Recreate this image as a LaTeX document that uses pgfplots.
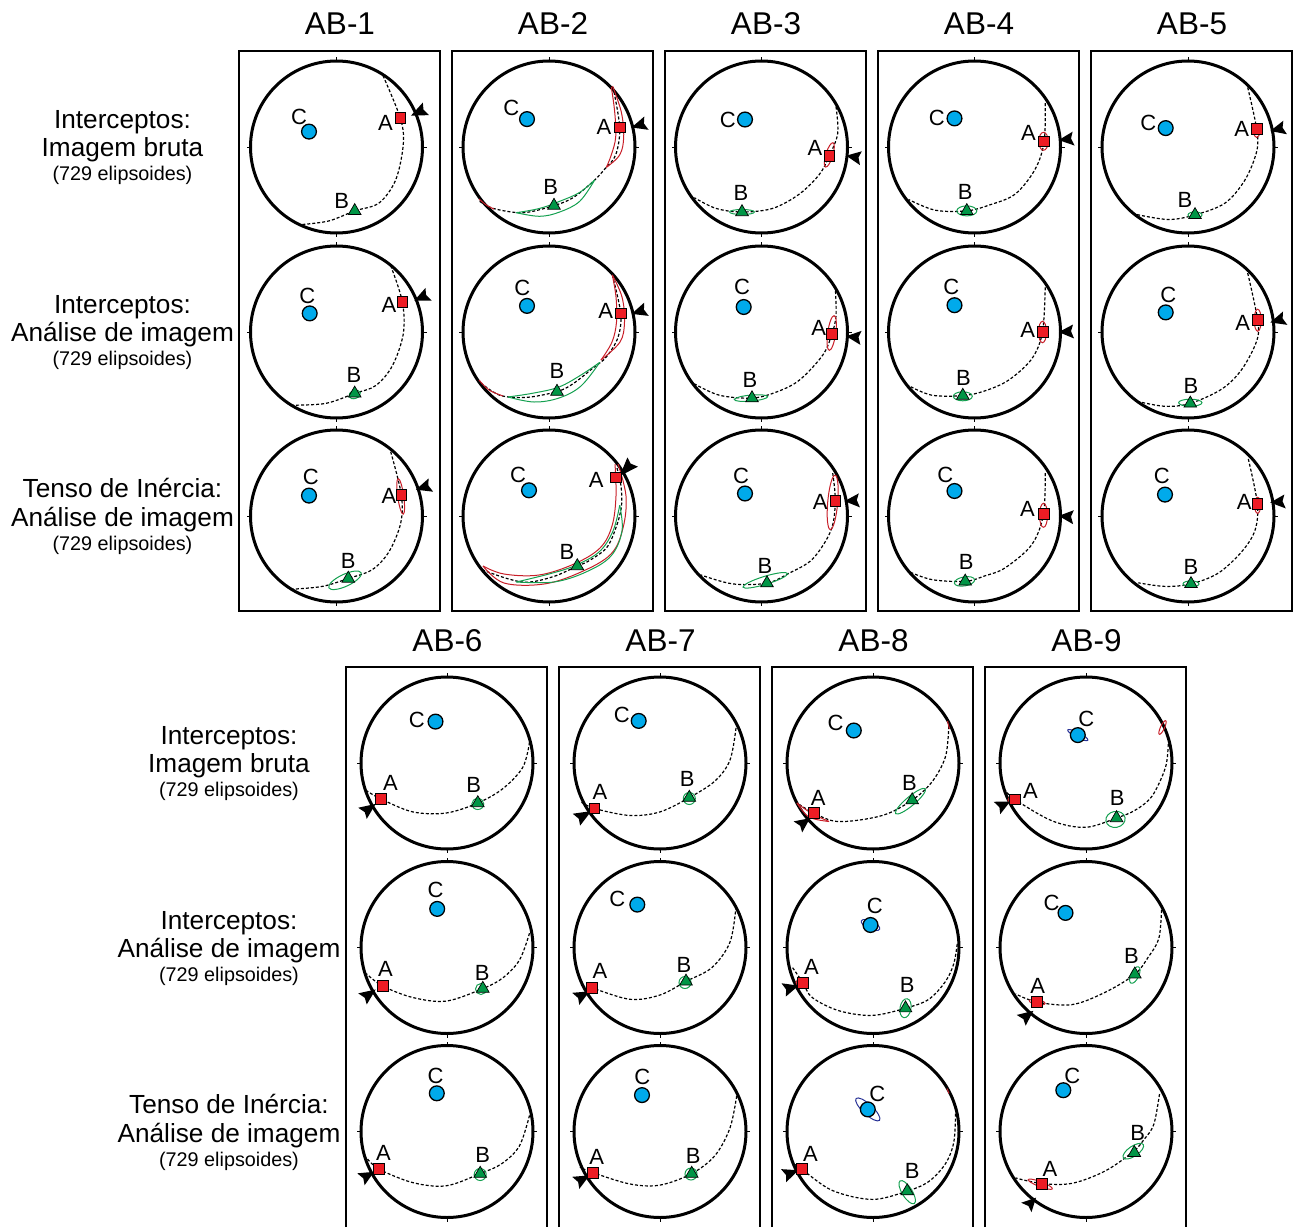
\documentclass[border=0pt]{standalone}
\usepackage{fontspec}
\setmainfont{Liberation Sans}
\usepackage{pgfplots}
\pgfplotsset{compat=1.18}
\usetikzlibrary{calc}
\definecolor{mred}{RGB}{237,28,36}
\definecolor{mgreen}{RGB}{0,150,70}
\definecolor{mblue}{RGB}{0,170,235}
\definecolor{ered}{RGB}{200,30,40}
\definecolor{egreen}{RGB}{20,160,80}
\definecolor{eblue}{RGB}{40,50,150}
\pgfplotsset{
  sh/.style 2 args={x filter/.expression={x+#1}, y filter/.expression={y+#2}},
  mA/.style={only marks, mark=square*, mark size=5.4pt, mark options={solid, fill=mred, draw=black, line width=0.7pt}},
  mB/.style={only marks, mark=triangle*, mark size=7.3pt, mark options={solid, fill=mgreen, draw=black, line width=0.7pt}},
  mC/.style={only marks, mark=*, mark size=7.4pt, mark options={solid, fill=mblue, draw=black, line width=1.3pt}},
}
\tikzset{
  lab/.style={font=\fontsize{22}{22}\selectfont, inner sep=0pt},
  ttl/.style={font=\fontsize{31.5}{31.5}\selectfont, anchor=base, inner sep=0pt},
  rl/.style={font=\fontsize{26.2}{26.2}\selectfont, anchor=base, inner sep=0pt},
  rs/.style={font=\fontsize{19.8}{19.8}\selectfont, anchor=base, inner sep=0pt},
}
\newcommand{\Net}[2]{%
  \draw[line width=3pt] (axis cs:#1,#2) circle[radius=86];
  \draw[line width=0.6pt] (axis cs:#1,{#2-87}) -- (axis cs:#1,{#2-90})
    (axis cs:#1,{#2+87}) -- (axis cs:#1,{#2+90})
    (axis cs:{#1-87},#2) -- (axis cs:{#1-90},#2)
    (axis cs:{#1+87},#2) -- (axis cs:{#1+90},#2);}
\newcommand{\GC}[3]{\addplot[black, line width=1.2pt, dash pattern=on 3pt off 2pt, smooth, tension=0.55, sh={#1}{#2}] coordinates {#3};}
\newcommand{\Bd}[4]{\addplot[#3, line width=1pt, smooth, tension=0.6, sh={#1}{#2}] coordinates {#4};}
\newcommand{\Pt}[5]{\addplot[#5, sh={#1}{#2}] coordinates {(#3,#4)};}
\newcommand{\ABC}[8]{\Pt{#1}{#2}{#3}{#4}{mA}\Pt{#1}{#2}{#5}{#6}{mB}\Pt{#1}{#2}{#7}{#8}{mC}}
\newcommand{\Lb}[5]{\node[lab] at (axis cs:{#1+#3},{#2+#4}) {#5};}
\newcommand{\LABC}[8]{\Lb{#1}{#2}{#3}{#4}{A}\Lb{#1}{#2}{#5}{#6}{B}\Lb{#1}{#2}{#7}{#8}{C}}
\newcommand{\El}[8]{\draw[#8, line width=1pt, rotate around={#7:(axis cs:{#1+#3},{#2+#4})}] (axis cs:{#1+#3},{#2+#4}) ellipse[x radius=#5, y radius=#6];}
% arrowhead: back point (#3,#4), tip (#5,#6)
\newcommand{\Ar}[6]{\fill[black] ($(axis cs:{#1+#5},{#2+#6})!-1.5pt!(axis cs:{#1+#3},{#2+#4})$)
  -- ($(axis cs:{#1+#3},{#2+#4})!7.5pt!90:(axis cs:{#1+#5},{#2+#6})$)
  -- ($(axis cs:{#1+#3},{#2+#4})!2.5pt!(axis cs:{#1+#5},{#2+#6})$)
  -- ($(axis cs:{#1+#3},{#2+#4})!6.5pt!-90:(axis cs:{#1+#5},{#2+#6})$) -- cycle;}
\newcommand{\RowLab}[4]{%
  \node[rl] at (axis cs:#1,#2) {#3};
  \node[rl] at (axis cs:#1,{#2+28.4}) {#4};
  \node[rs] at (axis cs:#1,{#2+52.2}) {(729 elipsoides)};}
\newcommand{\TopBox}[1]{\draw[line width=2.3pt] (axis cs:#1,51) rectangle (axis cs:{#1+201},611);}
\newcommand{\BotBox}[1]{\draw[line width=2.3pt] (axis cs:#1,1227) -- (axis cs:#1,667) -- (axis cs:{#1+201},667) -- (axis cs:{#1+201},1227);}
\begin{document}
\begin{tikzpicture}
\begin{axis}[scale only axis, width=1294pt, height=1227pt, xmin=0, xmax=1294, ymin=0, ymax=1227,
  y dir=reverse, hide axis, clip=false]
\path (axis cs:0,0) rectangle (axis cs:1294,1227);
% boxes
\TopBox{239}\TopBox{452}\TopBox{665}\TopBox{878}\TopBox{1091}
\BotBox{346}\BotBox{559}\BotBox{772}\BotBox{985}
% titles
\node[ttl] at (axis cs:340,35) {AB-1};
\node[ttl] at (axis cs:553,35) {AB-2};
\node[ttl] at (axis cs:766,35) {AB-3};
\node[ttl] at (axis cs:979,35) {AB-4};
\node[ttl] at (axis cs:1192,35) {AB-5};
\node[ttl] at (axis cs:447.5,651) {AB-6};
\node[ttl] at (axis cs:660.5,651) {AB-7};
\node[ttl] at (axis cs:873.5,651) {AB-8};
\node[ttl] at (axis cs:1086.5,651) {AB-9};
% row labels
\RowLab{122.5}{128.3}{Interceptos:}{Imagem bruta}
\RowLab{122.5}{313.3}{Interceptos:}{Análise de imagem}
\RowLab{122.5}{497.8}{Tenso de Inércia:}{Análise de imagem}
\RowLab{229}{744.3}{Interceptos:}{Imagem bruta}
\RowLab{229}{929.3}{Interceptos:}{Análise de imagem}
\RowLab{229}{1113.8}{Tenso de Inércia:}{Análise de imagem}

% ===== AB-1 =====
\Net{336.5}{147}
\GC{336.5}{147}{(46.5,-71.4) (63.8,-28.9) (66.8,-2.9) (59.2,32.9) (42.5,56) (18.2,63.9) (-7.5,73.9) (-34.2,77.5)}
\Ar{336.5}{147}{89.2}{-38.6}{75.8}{-32}
\ABC{336.5}{147}{63.8}{-28.9}{18.2}{63.9}{-27.5}{-15.4}
\LABC{336.5}{147}{49}{-24.3}{5.2}{53.6}{-37.5}{-30.4}

\Net{336.5}{332}
\GC{336.5}{332}{(54.2,-66.4) (65.8,-30.4) (66.8,1.8) (55.8,33.9) (39.2,53.6) (18.2,61.4) (-10.8,71.4) (-44.2,73.2)}
\El{336.5}{332}{18.2}{62.5}{6}{4}{20}{egreen}
\Ar{336.5}{332}{91.8}{-38.2}{79.2}{-32.1}
\ABC{336.5}{332}{65.8}{-30.4}{18.2}{61.4}{-26.8}{-18.6}
\LABC{336.5}{332}{52.5}{-27.5}{17.5}{42.9}{-29.2}{-35.7}

\Net{336.5}{516}
\GC{336.5}{516}{(54.2,-64.3) (64.8,-21.4) (64.2,7.1) (52.5,35.7) (35.8,53.6) (11.8,62.5) (-14.2,70.4) (-44.2,73.2)}
\El{336.5}{516}{64.2}{-19.6}{17.9}{3}{98}{ered}
\El{336.5}{516}{8.5}{64.3}{17.8}{6}{25}{egreen}
\Ar{336.5}{516}{94.2}{-31.4}{80.8}{-26.8}
\ABC{336.5}{516}{64.8}{-21.4}{11.8}{62.5}{-27.5}{-20.4}
\LABC{336.5}{516}{52.5}{-19.6}{11.8}{44.6}{-25.8}{-39.3}

% ===== AB-2 =====
\Net{549}{147}
\GC{549}{147}{(64,-60) (70.7,-19.6) (66.7,7.9) (55.7,22.1) (44,34.6) (24,50.7) (5,58.6) (-26,65.7) (-56,61.4) (-69.3,54.3)}
\Bd{549}{147}{ered}{(62.3,-60) (65.7,-35) (66.7,-10) (62.3,7.9) (57.3,20.4)}
\Bd{549}{147}{ered}{(63.5,-61) (72.3,-35) (74.7,-10) (70.7,7.9) (57.3,20.4)}
\Bd{549}{147}{egreen}{(-32.7,65.7) (-9.3,61.4) (10.7,54.3) (30.7,45.4) (45.7,32.9)}
\Bd{549}{147}{egreen}{(-32.7,65.7) (-9.3,69.3) (10.7,65) (30.7,54.3) (45.7,32.9)}
\Bd{549}{147}{ered}{(-70,52) (-62,58.5) (-55,62)}
\Ar{549}{147}{97.3}{-24.3}{84}{-20}
\ABC{549}{147}{70.7}{-19.6}{5}{58.6}{-22}{-27.9}
\LABC{549}{147}{55}{-19.6}{1.7}{40}{-37.7}{-38.6}

\Net{549}{332}
\GC{549}{332}{(63.3,-57.1) (71.7,-18.6) (69,5.4) (57.3,25) (44,36) (24,51.8) (8,59.6) (-22.7,65.4) (-49.3,63.2) (-69.3,50)}
\Bd{549}{332}{ered}{(63.3,-57.1) (67,-35) (67.5,-10) (63,10) (52,28)}
\Bd{549}{332}{ered}{(63.3,-57.1) (73,-35) (75.5,-10) (71,10) (52,28)}
\Bd{549}{332}{egreen}{(-41,65) (-15,61) (10,55) (32,43) (50.7,30.4)}
\Bd{549}{332}{egreen}{(-41,65) (-15,70) (10,66) (32,54) (50.7,30.4)}
\Bd{549}{332}{ered}{(-70,48) (-60,58) (-46,64)}
\Ar{549}{332}{97.3}{-23.2}{84}{-18.6}
\ABC{549}{332}{71.7}{-18.6}{8}{59.6}{-22}{-26.1}
\LABC{549}{332}{56.7}{-21.4}{8}{39.3}{-26.7}{-43.9}

\Net{549}{516}
\GC{549}{516}{(68,-48) (72,-30) (72.5,-10) (67.3,10.7) (57.3,32.1) (37.3,46.4) (28.3,50) (4,60.7) (-26,66.1) (-62.7,55.4) (-68,51)}
\Bd{549}{516}{ered}{(66,-52) (67,-20) (63,10) (51,32) (25,48) (-10,59) (-45,58) (-66,50)}
\Bd{549}{516}{ered}{(69,-52) (77,-20) (74,12) (62,38) (32,56) (-5,68) (-45,67) (-66,50)}
\Bd{549}{516}{egreen}{(70.7,-10.7) (64,15) (50,36) (25,50) (0,58) (-32.7,66)}
\Bd{549}{516}{egreen}{(70.7,-10.7) (73,15) (62,40) (37,56) (5,66) (-32.7,66)}
\Ar{549}{516}{83.3}{-54.3}{71.7}{-41.1}
\ABC{549}{516}{66.7}{-38.6}{28.3}{50}{-20}{-25.7}
\LABC{549}{516}{47.3}{-35.7}{18}{35.7}{-31}{-41}

% ===== AB-3 =====
\Net{761.5}{147}
\GC{761.5}{147}{(74.5,-40.4) (76.2,-13.6) (67.8,8.9) (57.8,27.5) (37.8,47.1) (11.2,61.4) (-19.5,65) (-45.5,61.4) (-67.2,50.7)}
\El{761.5}{147}{67.8}{7.9}{12.7}{3.5}{73}{ered}
\El{761.5}{147}{-19.5}{65}{12.5}{2.5}{0}{egreen}
\Ar{761.5}{147}{99.5}{10.7}{86.2}{8.9}
\ABC{761.5}{147}{67.8}{8.9}{-19.5}{65}{-16.5}{-27.5}
\LABC{761.5}{147}{53.5}{1.4}{-20.5}{46.4}{-33.8}{-26.8}

\Net{761.5}{332}
\GC{761.5}{332}{(74,-41) (74.5,-16) (70.5,1.8) (61.2,23.2) (37.8,48.2) (15,60) (-9.5,66.1) (-42.2,63.2) (-67.2,51.8)}
\El{761.5}{332}{70.2}{1}{17.5}{4}{82}{ered}
\El{761.5}{332}{-10.5}{66.1}{16.7}{3}{5}{egreen}
\Ar{761.5}{332}{99.5}{5.4}{86.2}{4.3}
\ABC{761.5}{332}{70.5}{1.8}{-9.5}{66.1}{-17.8}{-25}
\LABC{761.5}{332}{57.3}{-3.6}{-11.5}{48.2}{-19.5}{-44.6}

\Net{761.5}{516}
\GC{761.5}{516}{(71.2,-42.9) (73.8,-15) (69.5,14.3) (51.2,42.9) (27.8,57.1) (5.5,67.1) (-28.8,67.9) (-60.8,58.9)}
\El{761.5}{516}{71.2}{-13.6}{27.3}{5}{85}{ered}
\El{761.5}{516}{3.8}{64.3}{23.3}{4}{17}{egreen}
\Ar{761.5}{516}{97.8}{-16.1}{84.5}{-15}
\ABC{761.5}{516}{73.8}{-15}{5.5}{67.1}{-16.5}{-22.5}
\LABC{761.5}{516}{58.8}{-13.6}{3.5}{50}{-20.5}{-40}

% ===== AB-4 =====
\Net{974.5}{147}
\GC{974.5}{147}{(70.7,-43.9) (69.7,-5.7) (60.7,22.1) (40.7,47.1) (15,58) (-7.7,63.9) (-39.3,63.2) (-66,52.5)}
\El{974.5}{147}{69}{-5.7}{9}{4.7}{90}{ered}
\El{974.5}{147}{-7.7}{63.9}{10}{5}{0}{egreen}
\Ar{974.5}{147}{99}{-8.9}{85.7}{-7.1}
\ABC{974.5}{147}{69.7}{-5.7}{-7.7}{63.9}{-20}{-28.6}
\LABC{974.5}{147}{54}{-13.6}{-9.3}{45.4}{-37.7}{-28.6}

\Net{974.5}{332}
\GC{974.5}{332}{(70.7,-44.6) (68,0) (57.3,26.8) (34,48.2) (10,59) (-11.7,63.6) (-42.7,63.2) (-66,53.6)}
\El{974.5}{332}{68}{0}{10.7}{4}{90}{ered}
\El{974.5}{332}{-11.7}{64.3}{9.5}{4.5}{0}{egreen}
\Ar{974.5}{332}{99}{-1}{85.7}{0}
\ABC{974.5}{332}{68}{0}{-11.7}{63.6}{-20}{-26.8}
\LABC{974.5}{332}{53.3}{-2.5}{-11}{46.4}{-23.3}{-44.6}

\Net{974.5}{516}
\GC{974.5}{516}{(70.7,-42.9) (69,-1.8) (57.3,28.6) (30.7,51.8) (10,60) (-9.3,65.4) (-42.7,63.6) (-66,55.4)}
\El{974.5}{516}{69}{-0.7}{12}{4}{90}{ered}
\El{974.5}{516}{-10}{65.4}{10.3}{4.5}{10}{egreen}
\Ar{974.5}{516}{99}{0.7}{85.7}{0}
\ABC{974.5}{516}{69}{-1.8}{-9.3}{65.4}{-20}{-25}
\LABC{974.5}{516}{53}{-7.1}{-8.3}{45.7}{-29.3}{-41}

% ===== AB-5 =====
\Net{1188}{147}
\GC{1188}{147}{(59.7,-59.6) (68.7,-17.9) (68.7,4.3) (57,32.9) (37,56.1) (7,67.9) (-19.7,72.5) (-51.3,67.5)}
\El{1188}{147}{68.7}{-15.5}{6}{3}{90}{ered}
\El{1188}{147}{7}{67.9}{7}{3}{0}{egreen}
\Ar{1188}{147}{97}{-20}{83.7}{-16.4}
\ABC{1188}{147}{68.7}{-17.9}{7}{67.9}{-22.3}{-18.9}
\LABC{1188}{147}{53.7}{-17.9}{-3}{52.5}{-39.7}{-24.3}

\Net{1188}{332}
\GC{1188}{332}{(59.7,-58.9) (69.7,-11.8) (68.7,8.9) (53.7,37.5) (33.7,57.1) (2.3,71.4) (-23,74.3) (-49.7,69.6)}
\El{1188}{332}{69.7}{-11.8}{11}{3.5}{90}{ered}
\El{1188}{332}{2.3}{70.7}{11.7}{3.5}{0}{egreen}
\Ar{1188}{332}{97}{-14.3}{83.7}{-10}
\ABC{1188}{332}{69.7}{-11.8}{2.3}{71.4}{-22.3}{-19.6}
\LABC{1188}{332}{54.7}{-8.9}{3}{53.6}{-19.7}{-37.5}

\Net{1188}{516}
\GC{1188}{516}{(60.3,-57.1) (69.3,-12.5) (67,14.3) (53.7,35.7) (30.3,57.1) (3,67.9) (-23,70.4) (-49.7,66.8)}
\El{1188}{516}{69.6}{-10.7}{8}{3}{90}{ered}
\El{1188}{516}{3}{67.9}{8}{3}{0}{egreen}
\Ar{1188}{516}{97}{-15}{83.7}{-13.6}
\ABC{1188}{516}{69.3}{-12.5}{3}{67.9}{-23}{-21.4}
\LABC{1188}{516}{56.3}{-13.6}{3}{51.1}{-26.3}{-40}

% ===== AB-6 =====
\Net{447}{763}
\GC{447}{763}{(82.5,-20.7) (75.8,4.3) (55.8,25.7) (30.8,40) (-0.8,50) (-34.2,48.9) (-65.8,36.1) (-80.8,27.5)}
\El{447}{763}{30.8}{41}{6}{5.5}{0}{egreen}
\Ar{447}{763}{-84.2}{50.7}{-72.5}{41.8}
\ABC{447}{763}{-65.8}{36.1}{30.8}{40}{-11.5}{-41.4}
\LABC{447}{763}{-56.5}{19.6}{26.8}{22.1}{-30.2}{-42.9}

\Net{447}{947.5}
\GC{447}{947.5}{(82.5,-14.3) (72.5,12.5) (55.8,30.4) (35.8,41.1) (-0.8,53.6) (-34.2,50) (-64.2,38.6) (-80.8,26.1)}
\El{447}{947.5}{34}{41.5}{5.5}{5.5}{0}{egreen}
\Ar{447}{947.5}{-84.2}{51.8}{-72.5}{42.9}
\ABC{447}{947.5}{-64.2}{38.6}{35.8}{41.1}{-9.8}{-38.6}
\LABC{447}{947.5}{-61.5}{21.4}{35.2}{25}{-11.5}{-57.1}

\Net{447}{1131.5}
\GC{447}{1131.5}{(82.5,-16.1) (72.5,14.3) (55,32) (33.2,42.1) (-0.8,54.3) (-34.2,51.1) (-68.2,37.5) (-80.8,25.7)}
\El{447}{1131.5}{33.2}{43}{6}{6}{0}{egreen}
\Ar{447}{1131.5}{-85.8}{48.2}{-74.2}{41.1}
\ABC{447}{1131.5}{-68.2}{37.5}{33.2}{42.1}{-10.2}{-38.2}
\LABC{447}{1131.5}{-63.5}{21.4}{35.8}{23.2}{-11.5}{-55.4}

% ===== AB-7 =====
\Net{660}{763}
\GC{660}{763}{(76,-35) (70,-2.9) (55,18) (29.3,34.6) (0,48.9) (-30,52.5) (-65.7,45.4) (-80,38.2)}
\El{660}{763}{29.3}{35.5}{6}{6}{0}{egreen}
\Ar{660}{763}{-83.3}{57.1}{-70}{48.9}
\ABC{660}{763}{-65.7}{45.4}{29.3}{34.6}{-21.3}{-42.1}
\LABC{660}{763}{-60}{29.3}{27.3}{16.1}{-38.3}{-48.2}

\Net{660}{947.5}
\GC{660}{947.5}{(76,-41) (70,-5.4) (52,20) (26,33.9) (0,47.5) (-30,51.8) (-68.3,40.4) (-80,37.5)}
\El{660}{947.5}{25}{35}{6}{6}{0}{egreen}
\Ar{660}{947.5}{-84}{51.8}{-71.7}{44.6}
\ABC{660}{947.5}{-68.3}{40.4}{26}{33.9}{-22.7}{-42.9}
\LABC{660}{947.5}{-60}{23.9}{24}{17.1}{-42.7}{-48.2}

\Net{660}{1131.5}
\GC{660}{1131.5}{(76.7,-35.7) (70,-3.6) (55,24) (31.7,42.1) (0,53.6) (-30,52.5) (-67.3,41.1) (-80,35.7)}
\El{660}{1131.5}{31}{42.5}{6}{6}{0}{egreen}
\Ar{660}{1131.5}{-84}{51.8}{-71.7}{44.6}
\ABC{660}{1131.5}{-67.3}{41.1}{31.7}{42.1}{-18}{-36.4}
\LABC{660}{1131.5}{-63.3}{25}{33.3}{24.3}{-17.7}{-54.3}

% ===== AB-8 =====
\Net{873}{763}
\GC{873}{763}{(75.8,-36.8) (72.5,-6.4) (59.2,18.6) (39.2,37.1) (9.2,52.5) (-34.2,58.6) (-59.2,50) (-75.8,40)}
\El{873}{763}{37.5}{38.2}{19.3}{4.5}{40}{egreen}
\Bd{873}{763}{ered}{(-76,40) (-62,50) (-44,58.5)}
\Bd{873}{763}{ered}{(-76,40) (-64,54) (-44,58.5)}
\Bd{873}{763}{ered}{(74.5,-42) (76.5,-34)}
\Ar{873}{763}{-74.8}{64.3}{-64.2}{56.1}
\ABC{873}{763}{-59.2}{50}{39.2}{37.1}{-19.2}{-32.5}
\LABC{873}{763}{-54.8}{35}{36.5}{20.4}{-37.5}{-40.4}

\Net{873}{947.5}
\GC{873}{947.5}{(84.2,-3.6) (80.8,16.1) (72.5,33.9) (55.8,51.8) (32.5,60.7) (-0.8,67.9) (-34.2,63.2) (-60.8,50) (-70.2,35) (-80.8,19.6)}
\El{873}{947.5}{32.5}{60.7}{9.6}{5.5}{80}{egreen}
\El{873}{947.5}{-72}{35}{5}{4}{0}{ered}
\El{873}{947.5}{-2.5}{-22.5}{10}{4}{-25}{eblue}
\Ar{873}{947.5}{-89.2}{42.9}{-75.8}{38.6}
\ABC{873}{947.5}{-70.2}{35}{32.5}{60.7}{-2.5}{-22.5}
\LABC{873}{947.5}{-61.5}{19.6}{34.2}{37.5}{1.8}{-41.1}

\Net{873}{1131.5}
\GC{873}{1131.5}{(82.5,-17.9) (80.8,10.7) (72.5,32.1) (55.8,50) (34.2,59.6) (-0.8,67.9) (-40.8,58.9) (-71.5,37.5) (-78,33)}
\El{873}{1131.5}{34.2}{60.7}{13.4}{5}{-58}{egreen}
\El{873}{1131.5}{-5.2}{-22.1}{16}{5}{-43}{eblue}
\Bd{873}{1131.5}{ered}{(74,-43) (76,-38)}
\Ar{873}{1131.5}{-89.2}{44.6}{-75.8}{39.3}
\ABC{873}{1131.5}{-71.5}{37.5}{34.2}{59.6}{-5.2}{-22.1}
\LABC{873}{1131.5}{-62.5}{22.1}{39.2}{39.3}{4.2}{-37.5}

% ===== AB-9 =====
\Net{1086}{763}
\GC{1086}{763}{(82.2,-18.9) (79.5,4.3) (66.2,32.9) (49.5,47) (30.5,55) (-0.5,64.3) (-33.8,57.9) (-71.2,36.4) (-80.5,27.5)}
\El{1086}{763}{29.5}{56.4}{9.7}{8}{10}{egreen}
\El{1086}{763}{-73}{37}{5}{4.5}{0}{ered}
\El{1086}{763}{-8.2}{-27.9}{11.3}{2.5}{-27}{eblue}
\El{1086}{763}{76.5}{-35.5}{7.5}{2}{65}{ered}
\Ar{1086}{763}{-88.8}{45.4}{-77.2}{39.3}
\ABC{1086}{763}{-71.2}{36.4}{30.5}{55}{-8.2}{-27.9}
\LABC{1086}{763}{-55.5}{27.5}{31.2}{34.6}{0.2}{-43.9}

\Net{1086}{947.5}
\GC{1086}{947.5}{(75.5,-37.5) (72.8,-8.9) (62,10) (48.8,26.8) (19.5,44.6) (-13.8,57.1) (-48.8,54.6) (-70.5,46.4)}
\El{1086}{947.5}{48.8}{27.5}{9}{4}{65}{egreen}
\El{1086}{947.5}{-48.8}{54.6}{8}{2.5}{-10}{ered}
\Ar{1086}{947.5}{-64.5}{73.2}{-53.8}{64.3}
\ABC{1086}{947.5}{-48.8}{54.6}{48.8}{26.8}{-20.5}{-34.6}
\LABC{1086}{947.5}{-48.2}{38.9}{45.5}{8.9}{-34.5}{-44.6}

\Net{1086}{1131.5}
\GC{1086}{1131.5}{(73.5,-37.5) (67.8,-7.1) (58,8) (47.3,20) (19.5,39.3) (-13.8,51.8) (-44.3,52) (-70.5,46.4)}
\El{1086}{1131.5}{47.3}{19.7}{12}{5}{34}{egreen}
\El{1086}{1131.5}{-45.7}{52.7}{12.9}{2.5}{-21}{ered}
\Ar{1086}{1131.5}{-59.3}{76.3}{-51}{67.3}
\ABC{1086}{1131.5}{-44.3}{52}{48.3}{21.3}{-22.7}{-41.3}
\LABC{1086}{1131.5}{-36}{37.3}{51.7}{1.3}{-13.7}{-56}
\end{axis}
\end{tikzpicture}
\end{document}
